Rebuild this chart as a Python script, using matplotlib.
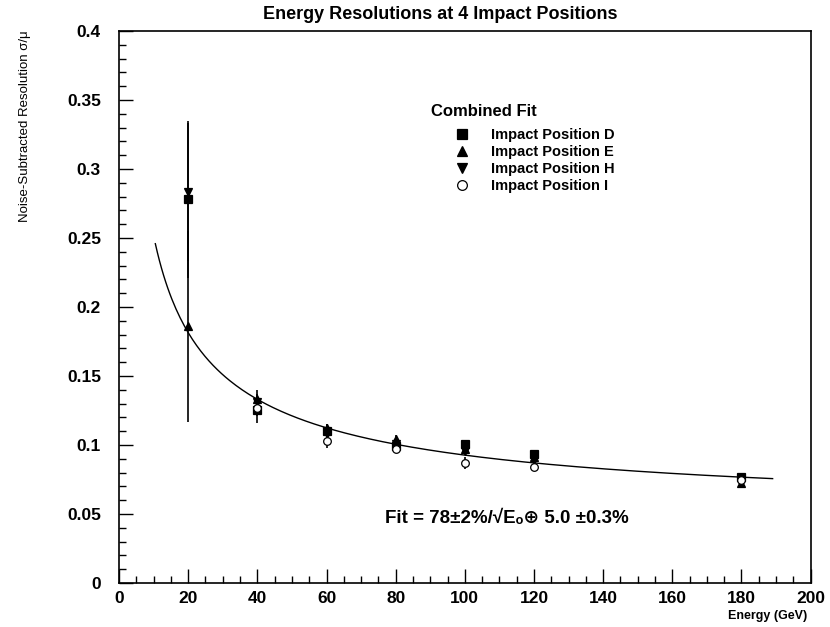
import numpy as np
import matplotlib.pyplot as plt
from matplotlib.ticker import MultipleLocator
from matplotlib.lines import Line2D

plt.rcParams['font.family'] = ['Liberation Sans', 'DejaVu Sans']

# data
energy = [20, 40, 60, 80, 100, 120, 180]
res_D = [0.278, 0.125, 0.110, 0.099, 0.1007, 0.0935, 0.077]
err_D = [0.057, 0.009, 0.005, 0.004, 0.003, 0.003, 0.002]
res_E = [0.186, 0.133, 0.112, 0.104, 0.097, 0.091, 0.0725]
err_E = [0.069, 0.007, 0.003, 0.003, 0.003, 0.003, 0.002]
res_H = [0.283, 0.131, 0.108, 0.101, 0.0957, 0.089, 0.075]
err_H = [0.05, 0.006, 0.004, 0.003, 0.003, 0.003, 0.002]
res_I = [np.nan, 0.127, 0.103, 0.097, 0.087, 0.084, 0.0747]
err_I = [0.0, 0.006, 0.005, 0.003, 0.0045, 0.003, 0.002]

# fit parameters (stochastic, constant term)
fit_a = 0.78
fit_b = 0.050
fit_range = (10.5, 189.0)

fig = plt.figure(figsize=(8.3, 6.27), dpi=100)
ax = fig.add_axes([0.1434, 0.0702, 0.8333, 0.8804])

series = [
    (res_D, err_D, 's', 'k', 'Impact Position D'),
    (res_E, err_E, '^', 'k', 'Impact Position E'),
    (res_H, err_H, 'v', 'k', 'Impact Position H'),
    (res_I, err_I, 'o', 'white', 'Impact Position I'),
]
handles = []
for y, e, m, fc, lab in series:
    ax.errorbar(energy, y, yerr=e, fmt=m, ms=5.5, mfc=fc, mec='k', mew=0.9,
                ecolor='k', elinewidth=1.2, capsize=0)
    handles.append(Line2D([], [], ls='none', marker=m, ms=7, mfc=fc, mec='k',
                          mew=0.9, label=lab))

E = np.linspace(fit_range[0], fit_range[1], 300)
ax.plot(E, np.sqrt((fit_a / np.sqrt(E))**2 + fit_b**2), color='k', lw=1.0)

ax.set_xlim(0, 200)
ax.set_ylim(0, 0.4)
ax.xaxis.set_major_locator(MultipleLocator(20))
ax.xaxis.set_minor_locator(MultipleLocator(5))
ax.yaxis.set_major_locator(MultipleLocator(0.05))
ax.yaxis.set_minor_locator(MultipleLocator(0.01))
ax.set_yticks(np.arange(0, 0.401, 0.05))
ax.set_yticklabels(['0', '0.05', '0.1', '0.15', '0.2', '0.25', '0.3', '0.35', '0.4'])
ax.tick_params(which='both', direction='in', top=False, right=False)
ax.tick_params(which='major', length=10, width=1.0, labelsize=12.5)
ax.tick_params(axis='x', which='major', pad=6)
ax.tick_params(axis='y', which='major', pad=13)
ax.tick_params(which='minor', length=5, width=1.0)
for lbl in ax.get_xticklabels() + ax.get_yticklabels():
    lbl.set_fontweight('bold')
for s in ax.spines.values():
    s.set_linewidth(1.2)

fig.text(0.53, 0.977, 'Energy Resolutions at 4 Impact Positions', ha='center', va='center',
         fontsize=13, fontweight='bold')
fig.text(0.973, 0.0175, 'Energy (GeV)', ha='right', va='center', fontsize=9, fontweight='bold')
fig.text(0.03, 0.952, 'Noise-Subtracted Resolution σ/μ', rotation=90, ha='center',
         va='top', fontsize=9.5)

ax.text(0.451, 0.855, 'Combined Fit', transform=ax.transAxes, fontsize=12,
        fontweight='bold', va='center')
leg = ax.legend(handles=handles, loc='upper left', bbox_to_anchor=(0.475, 0.837),
                frameon=False, fontsize=10.5, handlelength=1.0, handletextpad=1.5,
                labelspacing=0.2, borderpad=0)
for t in leg.get_texts():
    t.set_fontweight('bold')

ax.text(0.384, 0.117, 'Fit = 78±2%/√Eₒ⊕ 5.0 ±0.3%',
        transform=ax.transAxes, fontsize=13.5, fontweight='bold', va='center')

fig.savefig('out.png', dpi=100)
